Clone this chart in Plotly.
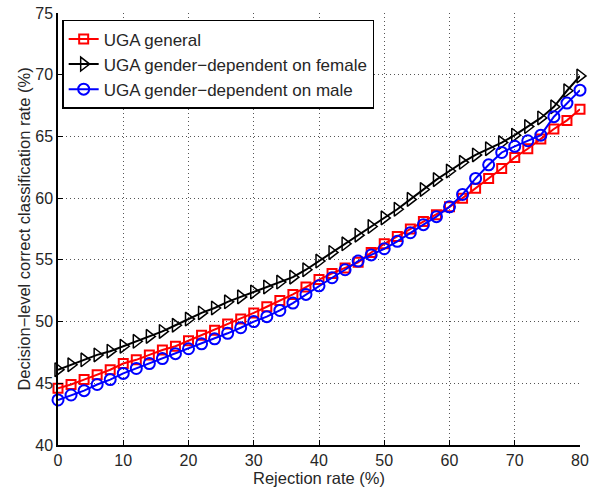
import plotly.graph_objects as go

rejection = list(range(0, 81, 2))

uga_general = [44.6, 44.9, 45.3, 45.7, 46.1, 46.6, 46.9, 47.3, 47.7, 48.0,
               48.45, 48.9, 49.3, 49.8, 50.2, 50.7, 51.2, 51.7, 52.2, 52.8,
               53.4, 53.9, 54.35, 54.8, 55.6, 56.3, 56.9, 57.5, 58.1, 58.65,
               59.3, 60.0, 60.8, 61.6, 62.4, 63.3, 64.0, 64.8, 65.6, 66.3, 67.2]

uga_female = [46.1, 46.5, 46.9, 47.3, 47.6, 48.0, 48.4, 48.8, 49.2, 49.7,
              50.2, 50.7, 51.1, 51.6, 52.0, 52.4, 52.8, 53.2, 53.6, 54.2,
              54.9, 55.6, 56.3, 57.0, 57.7, 58.4, 59.1, 59.9, 60.7, 61.5,
              62.2, 62.9, 63.5, 64.0, 64.5, 65.1, 65.8, 66.5, 67.4, 68.7, 69.9]

uga_male = [43.65, 44.05, 44.4, 44.9, 45.3, 45.8, 46.2, 46.6, 47.0, 47.4,
            47.8, 48.2, 48.6, 49.05, 49.5, 50.0, 50.4, 50.9, 51.5, 52.2,
            52.9, 53.55, 54.2, 54.9, 55.4, 55.9, 56.5, 57.2, 57.85, 58.5,
            59.3, 60.3, 61.6, 62.7, 63.7, 64.2, 64.65, 65.1, 66.6, 67.7, 68.75]

names = ["UGA general", "UGA gender\u2212dependent on female", "UGA gender\u2212dependent on male"]

fig = go.Figure()
fig.add_trace(go.Scatter(x=rejection, y=uga_general, name=names[0], mode="lines+markers",
                         line=dict(color="#ff0000", width=2),
                         marker=dict(symbol="square-open", size=9, color="#ff0000", line=dict(width=2)),
                         cliponaxis=False))
fig.add_trace(go.Scatter(x=rejection, y=uga_female, name=names[1], mode="lines+markers",
                         line=dict(color="#000000", width=2),
                         marker=dict(symbol="triangle-right-open", size=12, color="#000000", line=dict(width=1.5)),
                         cliponaxis=False))
fig.add_trace(go.Scatter(x=rejection, y=uga_male, name=names[2], mode="lines+markers",
                         line=dict(color="#0000ff", width=2),
                         marker=dict(symbol="circle-open", size=11, color="#0000ff", line=dict(width=2)),
                         cliponaxis=False))

FONT = "Liberation Sans, Arial, sans-serif"
axis_font = dict(family=FONT, size=16, color="#262626")
title_font = dict(family=FONT, size=16.5, color="#262626")
grid = dict(showgrid=True, gridcolor="#555555", griddash="1px,3px", gridwidth=1)
fig.update_layout(
    width=589, height=488,
    margin=dict(l=58, r=9, t=13, b=43),
    paper_bgcolor="white", plot_bgcolor="white",
    font=dict(family=FONT, size=16, color="#262626"),
    showlegend=True,
    legend=dict(x=0.008, y=0.984, xanchor="left", yanchor="top",
                bgcolor="white", bordercolor="black", borderwidth=1.5,
                font=dict(family=FONT, size=17, color="#262626"),
                itemwidth=30, tracegroupgap=0),
    xaxis=dict(range=[0, 80], dtick=10, tick0=0, showline=True, linecolor="black", linewidth=1.5,
               ticks="inside", ticklen=5, tickcolor="black", mirror=False,
               zeroline=False, tickfont=axis_font, automargin=False, ticklabeloverflow="allow",
               title=dict(text="Rejection rate (%)", font=title_font, standoff=0), **grid),
    yaxis=dict(range=[40, 75], dtick=5, tick0=40, showline=True, linecolor="black", linewidth=1.5,
               ticks="inside", ticklen=5, tickcolor="black", mirror=False,
               zeroline=False, tickfont=axis_font, automargin=False, ticklabeloverflow="allow",
               title=dict(text="Decision\u2212level correct classification rate (%)", font=title_font, standoff=0), **grid),
)

fig.write_html("out.html")
